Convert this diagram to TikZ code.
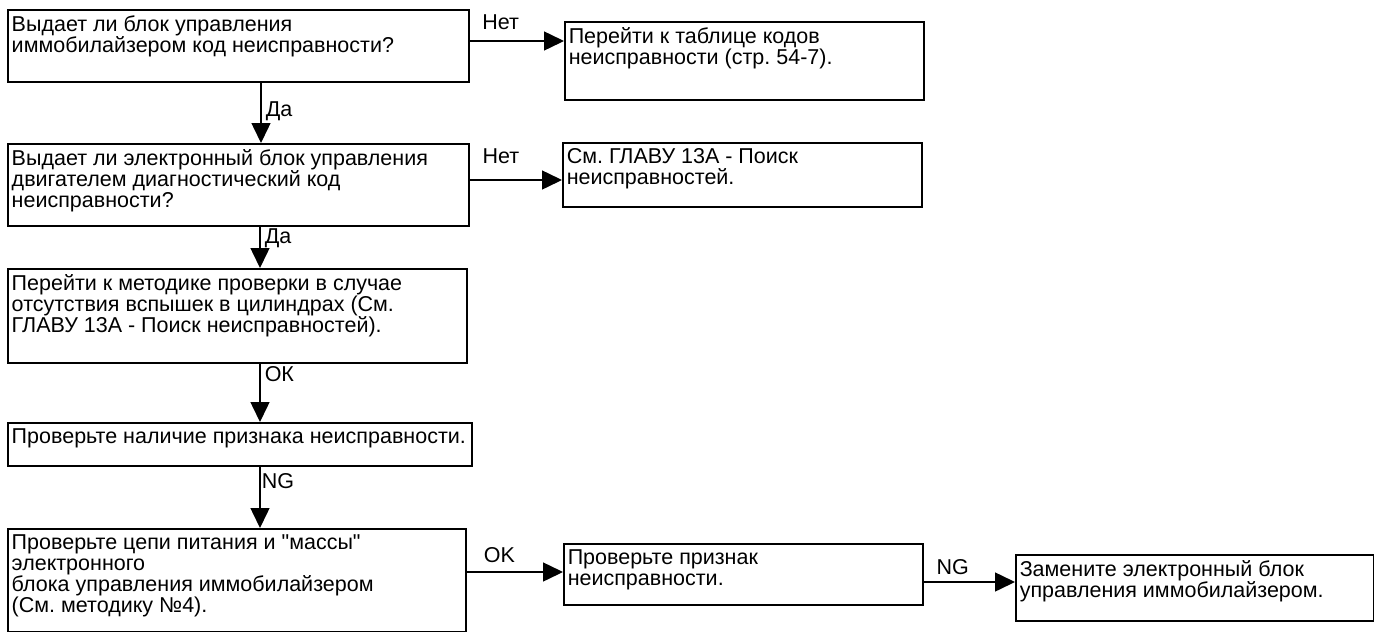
\documentclass[tikz,border=0pt]{standalone}
\usepackage{fontspec}
\setmainfont{Liberation Sans}[Ligatures=TeXOff]
\usetikzlibrary{arrows.meta,calc}
\tikzset{
  blk/.style={draw,line width=1.5pt,anchor=north west,inner xsep=4pt,inner ysep=6pt,font=\fontsize{21.5}{21}\selectfont},
  arr/.style={line width=1.5pt,-{Triangle[length=20pt,width=19pt]}},
  lbl/.style={font=\fontsize{21.5}{21}\selectfont,inner sep=1pt}
}
\newcommand{\blktxt}[3]{\parbox[c][\dimexpr#2pt-12pt][t]{\dimexpr#1pt-8pt}{\raggedright\frenchspacing #3}}

\begin{document}
\begin{tikzpicture}[line cap=butt,line join=miter,x=1pt,y=-1pt]
  \useasboundingbox (0,0) rectangle (1374,632);
  \node[blk] (q1) at (7,9) {\blktxt{461}{72}{Выдает ли блок управления\\иммобилайзером код неисправности?}};
  \node[blk] (r1) at (564,21) {\blktxt{359}{78}{Перейти к таблице кодов\\неисправности (стр. 54-7).}};
  \node[blk] (q2) at (7,143) {\blktxt{461}{82}{Выдает ли электронный блок управления\\двигателем диагностический код\\неисправности?}};
  \node[blk] (r2) at (562,142) {\blktxt{359}{64}{См. ГЛАВУ 13А - Поиск\\неисправностей.}};
  \node[blk] (q3) at (7,268) {\blktxt{459}{94}{Перейти к методике проверки в случае\\отсутствия вспышек в цилиндрах (См.\\ГЛАВУ 13А - Поиск неисправностей).}};
  \node[blk] (q4) at (7,422) {\blktxt{464}{43}{Проверьте наличие признака неисправности.}};
  \node[blk] (q5) at (7,528) {\blktxt{458}{103}{Проверьте цепи питания и "массы"\\электронного\\блока управления иммобилайзером\\(См. методику №4).}};
  \node[blk] (r3) at (563,543) {\blktxt{359}{61}{Проверьте признак\\неисправности.}};
  \node[blk] (r4) at (1015,554) {\blktxt{358}{66}{Замените электронный блок\\управления иммобилайзером.}};

  \coordinate (a1) at ($(q1.north east)+(0,32)$);
  \coordinate (a2) at ($(q2.north east)+(0,37)$);
  \coordinate (a3) at ($(q5.north east)+(0,44)$);
  \coordinate (a4) at ($(r3.north east)+(0,39)$);
  \draw[arr] (a1) -- (a1 -| r1.west) node[lbl,pos=0.33,yshift=19pt] (n1) {Нет};
  \draw[arr] (a2) -- (a2 -| r2.west) node[lbl,pos=0.34,yshift=24pt] (n2) {Нет};
  \draw[arr] (a3) -- (a3 -| r3.west) node[lbl,pos=0.34,yshift=17pt] (n3) {OK};
  \draw[arr] (a4) -- (a4 -| r4.west) node[lbl,pos=0.32,yshift=15pt] (n4) {NG};

  \coordinate (d1) at ($(q1.south west)+(254,0)$);
  \coordinate (d2) at ($(q2.south west)+(253,0)$);
  \coordinate (d3) at ($(q3.south west)+(253,0)$);
  \coordinate (d4) at ($(q4.south west)+(253,0)$);
  \draw[arr] (d1) -- (d1 |- q2.north) node[lbl,pos=0.47,right,xshift=3pt] (y1) {Да};
  \draw[arr] (d2) -- (d2 |- q3.north) node[lbl,pos=0.28,right,xshift=3pt] (y2) {Да};
  \draw[arr] (d3) -- (d3 |- q4.north) node[lbl,pos=0.18,right,xshift=3pt] (y3) {ОК};
  \draw[arr] (d4) -- (d4 |- q5.north) node[lbl,pos=0.24,right] (y4) {NG};
\end{tikzpicture}
\end{document}
